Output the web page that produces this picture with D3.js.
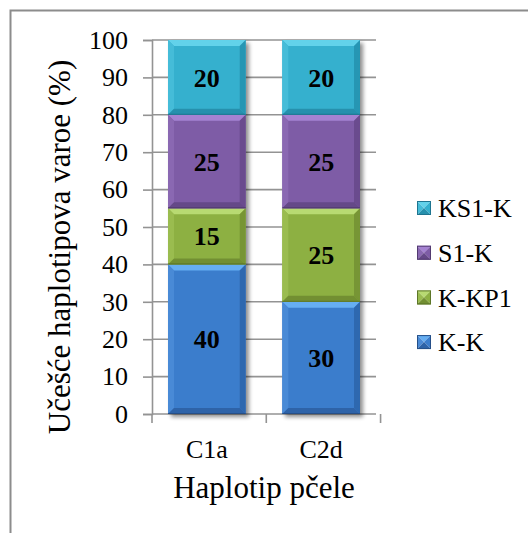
<!DOCTYPE html>
<html>
<head>
<meta charset="utf-8">
<script src="https://cdn.jsdelivr.net/npm/d3@7"></script>
<style>
  html, body { margin: 0; padding: 0; background: #fff; }
  svg { display: block; }
  text { font-family: "Liberation Serif", "Times New Roman", serif; }
</style>
</head>
<body>
<svg id="chart" width="528" height="533"></svg>
<script>
// ---- data ----
const categories = ["C1a", "C2d"];
const seriesNames = ["K-K", "K-KP1", "S1-K", "KS1-K"];
const kk    = [40, 30];
const kkp1  = [15, 25];
const s1k   = [25, 25];
const ks1k  = [20, 20];
const yTicks = [0, 10, 20, 30, 40, 50, 60, 70, 80, 90, 100];
const xTitle = "Haplotip pčele";
const yTitle = "Učešće haplotipova varoe (%)";

const seriesValues = [kk, kkp1, s1k, ks1k];
const colors = {
  "K-K":   { main: "#3b7dcc", top: "#66aef2", side: "#4a8ad6", dark: "#2d63a8", edge: "#254f88" },
  "K-KP1": { main: "#8db042", top: "#b8da72", side: "#9abc50", dark: "#728f32", edge: "#5d7628" },
  "S1-K":  { main: "#7e5ca6", top: "#a582d2", side: "#8a68b2", dark: "#654888", edge: "#523a70" },
  "KS1-K": { main: "#34b0ce", top: "#62d2ea", side: "#45bcd8", dark: "#2690ad", edge: "#1e7590" }
};

const svg = d3.select("#chart");
const defs = svg.append("defs");
const f = defs.append("filter").attr("id", "shadow").attr("x", "-20%").attr("y", "-20%").attr("width", "150%").attr("height", "150%");
f.append("feGaussianBlur").attr("in", "SourceAlpha").attr("stdDeviation", 2.2).attr("result", "b");
f.append("feOffset").attr("in", "b").attr("dx", 3).attr("dy", 3).attr("result", "o");
f.append("feComponentTransfer").attr("in", "o").attr("result", "s")
  .append("feFuncA").attr("type", "linear").attr("slope", 0.45);
const m = f.append("feMerge");
m.append("feMergeNode").attr("in", "s");
m.append("feMergeNode").attr("in", "SourceGraphic");

// outer frame (cropped on right/bottom)
svg.append("path").attr("d", "M10.5,540 L10.5,10.5 L540,10.5")
  .attr("fill", "none").attr("stroke", "#8c8c8c").attr("stroke-width", 2);

const plotLeft = 152, plotRight = 376, plotTop = 40, plotBottom = 414;
const y = d3.scaleLinear().domain([0, 100]).range([plotBottom, plotTop]);
const x = d3.scaleBand().domain(categories).range([plotLeft, plotRight]).paddingInner(0.32).paddingOuter(0.14);

const gridColor = "#939393";

// gridlines
svg.append("g").selectAll("line").data(yTicks.filter(d => d > 0)).join("line")
  .attr("x1", plotLeft).attr("x2", plotRight)
  .attr("y1", d => y(d)).attr("y2", d => y(d))
  .attr("stroke", gridColor).attr("stroke-width", 1.6);

// y axis
const yAxis = d3.axisLeft(y).tickValues(yTicks).tickSize(9).tickPadding(15).tickFormat(d3.format("d"));
const gy = svg.append("g").attr("transform", `translate(${plotLeft},0)`).call(yAxis);
gy.select(".domain").attr("stroke", gridColor).attr("stroke-width", 1.6);
gy.selectAll(".tick line").attr("stroke", gridColor).attr("stroke-width", 1.6);
gy.selectAll(".tick text").attr("font-size", 26).attr("fill", "#000")
  .attr("font-family", "'Liberation Serif', 'Times New Roman', serif");

// x axis
const xAxis = d3.axisBottom(x).tickSize(0).tickPadding(26);
const gx = svg.append("g").attr("transform", `translate(0,${plotBottom})`).call(xAxis);
gx.select(".domain").remove();
gx.selectAll(".tick text").attr("font-size", 26).attr("fill", "#000")
  .attr("font-family", "'Liberation Serif', 'Times New Roman', serif");
// x axis line and category boundary ticks
const step = x.step();
const boundaries = d3.range(categories.length + 1).map(i => plotLeft + i * step);
svg.append("line").attr("x1", plotLeft).attr("x2", plotRight)
  .attr("y1", plotBottom).attr("y2", plotBottom)
  .attr("stroke", gridColor).attr("stroke-width", 1.6);
svg.append("g").selectAll("line").data(boundaries).join("line")
  .attr("x1", d => d).attr("x2", d => d)
  .attr("y1", plotBottom).attr("y2", plotBottom + 9)
  .attr("stroke", gridColor).attr("stroke-width", 1.6);

// stacked data
const table = categories.map((c, i) => {
  const o = { cat: c };
  seriesNames.forEach((s, j) => o[s] = seriesValues[j][i]);
  return o;
});
const stacked = d3.stack().keys(seriesNames)(table);

const bars = svg.append("g");
const bevel = 6;
categories.forEach((c, ci) => {
  const g = bars.append("g").attr("filter", "url(#shadow)");
  stacked.forEach(layer => {
    const d = layer[ci];
    const col = colors[layer.key];
    const x0 = x(c), w = x.bandwidth();
    const yt = y(d[1]), yb = y(d[0]);
    const h = yb - yt;
    const b = Math.min(bevel, h / 2);
    g.append("rect").attr("x", x0).attr("y", yt).attr("width", w).attr("height", h).attr("fill", col.main);
    // top
    g.append("polygon").attr("points", [[x0, yt], [x0 + w, yt], [x0 + w - b, yt + b], [x0 + b, yt + b]].map(p => p.join(",")).join(" "))
      .attr("fill", col.top);
    // left
    g.append("polygon").attr("points", [[x0, yt], [x0 + b, yt + b], [x0 + b, yb - b], [x0, yb]].map(p => p.join(",")).join(" "))
      .attr("fill", col.side);
    // right
    g.append("polygon").attr("points", [[x0 + w, yt], [x0 + w - b, yt + b], [x0 + w - b, yb - b], [x0 + w, yb]].map(p => p.join(",")).join(" "))
      .attr("fill", col.dark).attr("opacity", 0.8);
    // bottom
    g.append("polygon").attr("points", [[x0, yb], [x0 + b, yb - b], [x0 + w - b, yb - b], [x0 + w, yb]].map(p => p.join(",")).join(" "))
      .attr("fill", col.dark);
    g.append("line").attr("x1", x0).attr("x2", x0 + w).attr("y1", yb - 0.5).attr("y2", yb - 0.5)
      .attr("stroke", col.edge).attr("stroke-width", 1);
  });
});

// data labels
const labels = svg.append("g");
stacked.forEach(layer => {
  layer.forEach((d, ci) => {
    labels.append("text")
      .attr("x", x(categories[ci]) + x.bandwidth() / 2)
      .attr("y", (y(d[0]) + y(d[1])) / 2)
      .attr("dy", "0.35em")
      .attr("text-anchor", "middle")
      .attr("font-size", 26).attr("font-weight", "bold").attr("fill", "#000")
      .text(d.data[layer.key]);
  });
});

// axis titles
svg.append("text").attr("x", (plotLeft + plotRight) / 2).attr("y", 498)
  .attr("text-anchor", "middle").attr("font-size", 31).attr("fill", "#000").text(xTitle);
svg.append("text").attr("transform", `translate(70,247) rotate(-90)`)
  .attr("text-anchor", "middle").attr("font-size", 31).attr("fill", "#000").text(yTitle);

// legend (reverse order, top = KS1-K)
const legendItems = seriesNames.slice().reverse();
const lg = svg.append("g");
legendItems.forEach((name, i) => {
  const cy = 208 + i * 44.7;
  const col = colors[name];
  const s = 14, lx = 417, ly = cy - s / 2;
  const cx = lx + s / 2, cyy = ly + s / 2;
  const tri = (pts, fill) => lg.append("polygon").attr("points", pts.map(p => p.join(",")).join(" ")).attr("fill", fill);
  tri([[lx, ly], [lx + s, ly], [cx, cyy]], col.top);
  tri([[lx, ly], [cx, cyy], [lx, ly + s]], col.side);
  tri([[lx + s, ly], [lx + s, ly + s], [cx, cyy]], col.main);
  tri([[lx, ly + s], [cx, cyy], [lx + s, ly + s]], col.dark);
  lg.append("rect").attr("x", lx + 0.5).attr("y", ly + 0.5).attr("width", s - 1).attr("height", s - 1)
    .attr("fill", "none").attr("stroke", col.edge).attr("stroke-width", 1);
  lg.append("text").attr("x", 438).attr("y", cy).attr("dy", "0.35em")
    .attr("font-size", 26).attr("fill", "#000").text(name);
});
</script>
</body>
</html>
